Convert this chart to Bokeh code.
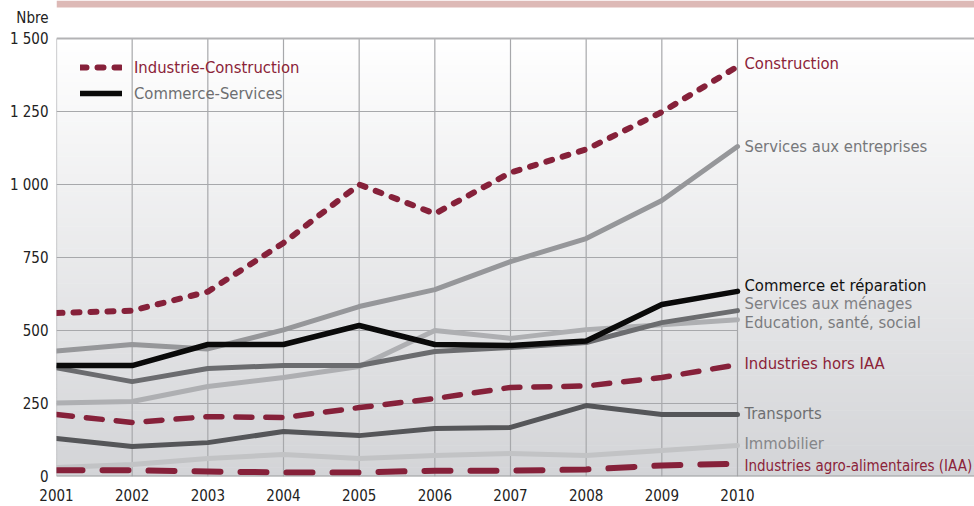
import numpy as np
from bokeh.plotting import figure
from bokeh.models import Range1d, FixedTicker, Span, Legend, LegendItem, ColumnDataSource
from bokeh.core.properties import value
from bokeh.embed import file_html
from bokeh.resources import INLINE

# ---------------- data ----------------
years = list(range(2001, 2011))
construction = [560, 568, 633, 800, 1000, 900, 1041, 1120, 1248, 1404]
services_entreprises = [430, 452, 437, 502, 582, 640, 736, 815, 945, 1130]
commerce_reparation = [380, 380, 452, 452, 517, 452, 449, 464, 589, 634]
services_menages = [372, 325, 370, 380, 380, 428, 442, 459, 527, 568]
education_sante_social = [252, 257, 308, 339, 377, 500, 473, 503, 520, 537]
industries_hors_iaa = [212, 185, 205, 202, 236, 267, 305, 310, 339, 383]
transports = [130, 103, 116, 154, 140, 164, 168, 243, 212, 212]
immobilier = [31, 41, 62, 75, 62, 72, 79, 72, 89, 106]
iaa = [21, 21, 17, 14, 14, 20, 20, 24, 38, 44]

series_names = ["Construction", "Services aux entreprises", "Commerce et réparation",
                "Services aux ménages", "Education, santé, social", "Industries hors IAA",
                "Transports", "Immobilier", "Industries agro-alimentaires (IAA)"]
legend_labels = ["Industrie-Construction", "Commerce-Services"]
y_ticks = [0, 250, 500, 750, 1000, 1250, 1500]
y_tick_labels = ["0", "250", "500", "750", "1 000", "1 250", "1 500"]
y_unit = "Nbre"

# ---------------- style / layout ----------------
FONT = "'DejaVu Sans Condensed', 'Liberation Sans Narrow', sans-serif"
RED = "#86213a"
RED_TXT = "#8b2338"
GRID = "#a7a8ab"

W, H = 974, 506
BL, BB = 56, 30
TOP_GAP = 38                     # px between frame top and the 1500 line
BAND_H = 7
frame_h = H - BB
frame_w = W - BL
px_per_year = 681 / 9
px_per_unit = (frame_h - TOP_GAP) / 1500
x_end = 2001 + frame_w / px_per_year
y_end = 1500 + TOP_GAP / px_per_unit
unit_tick = 1500 + 21 / px_per_unit   # where the unit label sits
band_bottom = y_end - BAND_H / px_per_unit

p = figure(width=W, height=H, output_backend="svg", toolbar_location=None,
           x_range=Range1d(2001, x_end), y_range=Range1d(0, y_end),
           min_border_left=BL, min_border_right=0, min_border_top=0, min_border_bottom=BB,
           outline_line_color=None, background_fill_color="white", border_fill_color="white")
p.xgrid.visible = False
p.ygrid.visible = False

# top decorative band
p.quad(left=2001, right=x_end, bottom=band_bottom, top=y_end, fill_color="#ddb9b6", line_color=None)

# background gradient
edges = np.linspace(0, 1500, 101)
c0 = np.array([0xd3, 0xd4, 0xd7])
c1 = np.array([0xff, 0xff, 0xff])
cols = []
for i in range(100):
    t = (i + 0.5) / 100
    c = (c0 + (c1 - c0) * t).round().astype(int)
    cols.append("#%02x%02x%02x" % tuple(c))
tops = np.minimum(edges[1:] + 2, 1500)
p.quad(left=2001, right=x_end, bottom=edges[:-1], top=tops, fill_color=cols, line_color=None)

# grid lines
p.segment(x0=years, y0=0, x1=years, y1=1500, line_color=GRID, line_width=1.2)
hy = y_ticks[1:-1]
p.segment(x0=[years[0]] * len(hy), y0=hy, x1=[years[-1]] * len(hy), y1=hy, line_color=GRID, line_width=1.2)
p.add_layout(Span(location=1500, dimension="width", line_color="#b3b3b5", line_width=2))
p.add_layout(Span(location=0, dimension="width", line_color="#9c9da0", line_width=2))

# lines
p.line(years, immobilier, line_color="#c2c3c5", line_width=5, line_join="round", line_cap="round")
p.line(years, education_sante_social, line_color="#aeafb2", line_width=5, line_join="round", line_cap="round")
p.line(years, services_entreprises, line_color="#96979a", line_width=5, line_join="round", line_cap="round")
p.line(years, services_menages, line_color="#6b6c6f", line_width=5, line_join="round", line_cap="round")
p.line(years, transports, line_color="#555659", line_width=5, line_join="round", line_cap="round")
r_com = p.line(years, commerce_reparation, line_color="#0a0a0a", line_width=5.5, line_join="round", line_cap="round")
p.line(years, iaa, line_color=RED, line_width=6, line_dash="26 20", line_cap="round", line_join="round")
p.line(years, industries_hors_iaa, line_color=RED, line_width=5.5, line_dash="16 14", line_cap="round", line_join="round")
r_con = p.line(years, construction, line_color=RED, line_width=6, line_dash="6 11", line_cap="round", line_join="round")

# right-hand labels
last = [construction[-1], services_entreprises[-1], commerce_reparation[-1], services_menages[-1],
        education_sante_social[-1], industries_hors_iaa[-1], transports[-1], immobilier[-1], iaa[-1]]
nudge = [-3, 0, -6, -7, 3, -1, -1, -2, 2]
lab_colors = [RED_TXT, "#77787b", "#111111", "#7f8083", "#7a7b7e", RED_TXT, "#6e6f72", "#858689", RED_TXT]
lab_sizes = ["16.5px"] * 8 + ["15px"]
src = ColumnDataSource(dict(x=[years[-1]] * len(last), y=last, t=series_names, dy=nudge, c=lab_colors, s=lab_sizes))
p.text(x="x", y="y", text="t", source=src, x_offset=7, y_offset="dy", text_color="c",
       text_font=value(FONT), text_font_size="s", text_baseline="middle", text_align="left")

# legend
common = dict(padding=0, margin=0, spacing=0, glyph_width=42, glyph_height=20, label_height=20,
              label_standoff=12, background_fill_alpha=0, border_line_color=None,
              label_text_font=FONT, label_text_font_size="16.5px")
leg1 = Legend(items=[LegendItem(label=legend_labels[0], renderers=[r_con])], location=(24, frame_h - 77),
              label_text_color=RED_TXT, **common)
leg2 = Legend(items=[LegendItem(label=legend_labels[1], renderers=[r_com])], location=(24, frame_h - 103),
              label_text_color="#6d6e71", **common)
p.add_layout(leg1)
p.add_layout(leg2)

# axes
for ax in (p.xaxis[0], p.yaxis[0]):
    ax.axis_line_color = None
    ax.major_tick_line_color = None
    ax.minor_tick_line_color = None
    ax.major_tick_out = 0
    ax.major_tick_in = 0
    ax.major_label_text_font = FONT
    ax.major_label_text_font_size = "15px"
    ax.major_label_text_color = "#222222"
p.xaxis.ticker = FixedTicker(ticks=years)
p.xaxis.major_label_standoff = 12
p.yaxis.ticker = FixedTicker(ticks=y_ticks + [unit_tick])
overrides = {t: l for t, l in zip(y_ticks, y_tick_labels)}
overrides[unit_tick] = y_unit
p.yaxis.major_label_overrides = overrides
p.yaxis.major_label_standoff = 8

open("out.html", "w").write(file_html(p, INLINE))
